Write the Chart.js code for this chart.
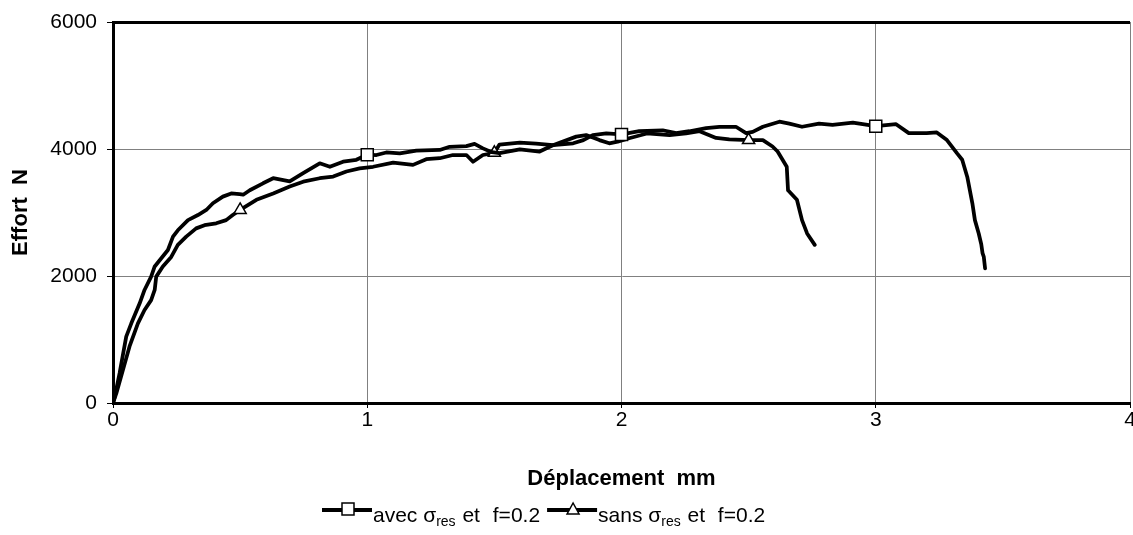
<!DOCTYPE html>
<html><head><meta charset="utf-8">
<script src="https://cdn.jsdelivr.net/npm/chart.js@4.4.0/dist/chart.umd.min.js"></script>
<style>html,body{margin:0;padding:0;background:#fff;overflow:hidden}#wrap{width:1133px;height:535px;position:relative}</style>
</head><body><div id="wrap"><canvas id="c" width="1133" height="535"></canvas></div>
<script>
// ---- data ----
const avecX = [0, 0.007, 0.026, 0.052, 0.072, 0.105, 0.124, 0.15, 0.164, 0.19, 0.216, 0.236, 0.255, 0.295, 0.334, 0.367, 0.393, 0.432, 0.465, 0.498, 0.512, 0.538, 0.59, 0.63, 0.695, 0.748, 0.813, 0.853, 0.905, 0.957, 1.0, 1.036, 1.075, 1.128, 1.193, 1.285, 1.324, 1.39, 1.422, 1.455, 1.49, 1.52, 1.6, 1.678, 1.73, 1.81, 1.85, 1.887, 1.94, 2.0, 2.07, 2.162, 2.215, 2.267, 2.333, 2.385, 2.45, 2.49, 2.516, 2.556, 2.621, 2.66, 2.71, 2.777, 2.83, 2.91, 3.0, 3.08, 3.13, 3.2, 3.24, 3.28, 3.32, 3.34, 3.36, 3.38, 3.39, 3.405, 3.415, 3.42, 3.425, 3.43];
const avecY = [0, 100, 470, 1045, 1255, 1570, 1780, 1990, 2150, 2280, 2410, 2620, 2720, 2880, 2960, 3040, 3145, 3250, 3300, 3290, 3280, 3350, 3460, 3540, 3490, 3620, 3775, 3720, 3800, 3830, 3910, 3905, 3945, 3930, 3975, 3985, 4035, 4045, 4080, 4010, 3950, 3935, 3995, 3960, 4060, 4090, 4140, 4220, 4245, 4230, 4280, 4295, 4250, 4280, 4330, 4350, 4350, 4250, 4270, 4350, 4430, 4400, 4350, 4400, 4380, 4415, 4360, 4390, 4250, 4250, 4260, 4140, 3930, 3830, 3560, 3145, 2880, 2670, 2500, 2360, 2300, 2120];
const sansX = [0, 0.013, 0.039, 0.065, 0.098, 0.124, 0.15, 0.164, 0.17, 0.196, 0.229, 0.255, 0.288, 0.327, 0.36, 0.406, 0.445, 0.471, 0.5, 0.564, 0.63, 0.695, 0.748, 0.813, 0.866, 0.918, 0.97, 1.023, 1.102, 1.18, 1.232, 1.285, 1.337, 1.39, 1.416, 1.455, 1.5, 1.52, 1.6, 1.664, 1.73, 1.822, 1.861, 1.913, 1.952, 1.985, 2.03, 2.1, 2.189, 2.254, 2.307, 2.372, 2.424, 2.5, 2.556, 2.594, 2.614, 2.65, 2.655, 2.69, 2.71, 2.73, 2.76];
const sansY = [0, 150, 520, 890, 1255, 1465, 1620, 1780, 1990, 2150, 2300, 2490, 2620, 2750, 2800, 2830, 2880, 2960, 3040, 3200, 3300, 3410, 3485, 3540, 3565, 3645, 3695, 3720, 3785, 3750, 3840, 3855, 3905, 3905, 3800, 3905, 3940, 4070, 4100, 4085, 4060, 4195, 4220, 4140, 4090, 4115, 4170, 4245, 4220, 4245, 4280, 4175, 4150, 4140, 4140, 4040, 3960, 3720, 3350, 3200, 2880, 2670, 2490];
const avecMarkX = [1, 2, 3];
const sansMarkX = [0.5, 1.5, 2.5];
const xTickValues = [0, 1, 2, 3, 4];
const yTickValues = [0, 2000, 4000, 6000];
const seriesLabels = [
  {pre: 'avec σ', sub: 'res', post: ' et f=0.2'},
  {pre: 'sans σ', sub: 'res', post: ' et f=0.2'}
];
const xTitle = 'Déplacement  mm';
const yTitle = 'Effort  N';

// ---- chart ----
const FONT = '"Liberation Sans", Arial, sans-serif';
const toXY = (xs, ys) => xs.map((x, i) => ({x: x, y: ys[i]}));
const markRadius = (xs, marks, r) => ctx => marks.includes(xs[ctx.dataIndex]) ? r : 0;

const legendPlugin = {
  id: 'customLegend',
  afterDraw(chart) {
    const ctx = chart.ctx;
    ctx.save();
    let x = 322;
    const yLine = 510, yBase = 522;
    const styles = ['rect', 'triangle'];
    seriesLabels.forEach((lab, i) => {
      ctx.strokeStyle = '#000';
      ctx.lineWidth = 4;
      ctx.lineCap = 'butt';
      ctx.beginPath(); ctx.moveTo(x, yLine); ctx.lineTo(x + 50, yLine); ctx.stroke();
      const cx = x + 26;
      ctx.lineWidth = 1.5;
      ctx.fillStyle = '#fff';
      ctx.beginPath();
      if (styles[i] === 'rect') {
        ctx.rect(cx - 6, yLine - 7, 12, 12);
      } else {
        ctx.moveTo(cx, yLine - 7); ctx.lineTo(cx + 6, yLine + 4); ctx.lineTo(cx - 6, yLine + 4); ctx.closePath();
      }
      ctx.fill(); ctx.stroke();
      x += 51;
      ctx.fillStyle = '#000';
      ctx.textBaseline = 'alphabetic';
      ctx.textAlign = 'left';
      ctx.font = '21px ' + FONT;
      ctx.fillText(lab.pre, x, yBase); x += ctx.measureText(lab.pre).width;
      ctx.font = '14px ' + FONT;
      ctx.fillText(lab.sub, x, yBase + 4); x += ctx.measureText(lab.sub).width;
      ctx.font = '21px ' + FONT;
      const words = lab.post.split(' ');
      const sp = ctx.measureText(' ').width;
      words.forEach((w, k) => {
        if (k > 0) x += sp + (k > 1 ? 7 : 1);
        if (w) { ctx.fillText(w, x, yBase); x += ctx.measureText(w).width; }
      });
      x += 7;
    });
    ctx.restore();
  }
};

new Chart(document.getElementById('c'), {
  type: 'scatter',
  data: {
    datasets: [
      {
        label: 'avec σres et f=0.2',
        data: toXY(avecX, avecY),
        showLine: true,
        borderColor: '#000',
        borderWidth: 3.75,
        borderJoinStyle: 'round',
        borderCapStyle: 'round',
        pointStyle: 'rect',
        pointRadius: markRadius(avecX, avecMarkX, 8.5),
        pointHoverRadius: markRadius(avecX, avecMarkX, 8.5),
        pointBackgroundColor: '#fff',
        pointBorderColor: '#000',
        pointBorderWidth: 1.5,
        tension: 0
      },
      {
        label: 'sans σres et f=0.2',
        data: toXY(sansX, sansY),
        showLine: true,
        borderColor: '#000',
        borderWidth: 3.75,
        borderJoinStyle: 'round',
        borderCapStyle: 'round',
        pointStyle: 'triangle',
        pointRadius: markRadius(sansX, sansMarkX, 7),
        pointHoverRadius: markRadius(sansX, sansMarkX, 7),
        pointBackgroundColor: '#fff',
        pointBorderColor: '#000',
        pointBorderWidth: 1.5,
        tension: 0
      }
    ]
  },
  options: {
    responsive: false,
    animation: false,
    events: [],
    layout: {padding: {top: 22, right: 3, bottom: 32, left: 0}},
    plugins: {legend: {display: false}, tooltip: {enabled: false}},
    scales: {
      x: {
        type: 'linear', min: 0, max: 4,
        afterBuildTicks: s => { s.ticks = xTickValues.map(v => ({value: v})); },
        ticks: {color: '#000', font: {family: FONT, size: 21}, padding: 0, maxRotation: 0, callback: v => String(v)},
        grid: {
          color: c => (c.tick && c.tick.value === 0) ? '#000' : '#808080',
          lineWidth: 1, tickColor: '#000', tickWidth: 1, tickLength: 5
        },
        border: {color: '#000', width: 3},
        title: {display: true, text: xTitle, color: '#000', font: {family: FONT, size: 22, weight: 'bold'}, padding: {top: 0, bottom: 11}},
        afterFit: s => { s.height = 100; s.paddingLeft = 0; s.paddingRight = 0; }
      },
      y: {
        type: 'linear', min: 0, max: 6000,
        afterBuildTicks: s => { s.ticks = yTickValues.map(v => ({value: v})); },
        ticks: {color: '#000', font: {family: FONT, size: 21}, padding: 10, callback: v => String(v)},
        grid: {
          color: c => (c.tick && c.tick.value === 6000) ? '#000' : '#808080',
          lineWidth: c => (c.tick && c.tick.value === 6000) ? 3 : 1,
          tickColor: '#000', tickWidth: 1, tickLength: 6
        },
        border: {color: '#000', width: 3},
        title: {display: true, text: yTitle, color: '#000', font: {family: FONT, size: 22, weight: 'bold'}, padding: {top: 8, bottom: 0}},
        afterFit: s => { s.width = 113; s.paddingTop = 0; s.paddingBottom = 0; }
      }
    }
  },
  plugins: [legendPlugin]
});
</script>
</body></html>
